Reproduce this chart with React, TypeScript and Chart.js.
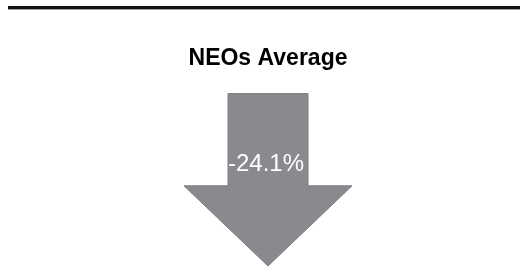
import React, { useEffect, useRef } from "react";
import { Chart, registerables } from "chart.js";

Chart.register(...registerables);

const categories = ["NEOs Average"];
const changeValues = [-24.1];
const chartTitle = "NEOs Average";

const arrowPlugin = {
  id: "arrowPlugin",
  beforeDraw(chart: any) {
    const ctx = chart.ctx;
    ctx.save();
    ctx.fillStyle = "#111111";
    ctx.fillRect(8, 6, chart.width - 8, 3);
    ctx.fillStyle = "#a0a0a0";
    ctx.fillRect(8, 9, chart.width - 8, 1);
    ctx.restore();
  },
  afterDatasetsDraw(chart: any) {
    const ctx = chart.ctx;
    const meta = chart.getDatasetMeta(0);
    meta.data.forEach((bar: any, i: number) => {
      const { x, y, base, width } = bar.getProps(["x", "y", "base", "width"], true);
      const half = width / 2;
      const headHalf = width * 1.05;
      const shoulder = base + (y - base) * 0.535;
      ctx.save();
      ctx.beginPath();
      ctx.moveTo(x - half, base);
      ctx.lineTo(x + half, base);
      ctx.lineTo(x + half, shoulder);
      ctx.lineTo(x + headHalf, shoulder);
      ctx.lineTo(x, y);
      ctx.lineTo(x - headHalf, shoulder);
      ctx.lineTo(x - half, shoulder);
      ctx.closePath();
      ctx.fillStyle = "#8a8a8e";
      ctx.fill();
      ctx.strokeStyle = "#7c7c80";
      ctx.lineWidth = 1;
      ctx.stroke();
      const v = chart.data.datasets[0].data[i];
      ctx.fillStyle = "#ffffff";
      ctx.font = "300 24px 'Liberation Sans', Arial, sans-serif";
      ctx.textAlign = "center";
      ctx.textBaseline = "alphabetic";
      ctx.fillText(v.toFixed(1) + "%", x - 2, base + 77);
      ctx.restore();
    });
  },
};

export default function App() {
  const ref = useRef<HTMLCanvasElement>(null);
  useEffect(() => {
    document.body.style.margin = "0";
    const chart = new Chart(ref.current!, {
      type: "bar",
      data: {
        labels: categories,
        datasets: [
          {
            data: changeValues,
            backgroundColor: "rgba(0,0,0,0)",
            barThickness: 80,
          },
        ],
      },
      options: {
        animation: false,
        responsive: false,
        maintainAspectRatio: false,
        layout: { padding: { top: 30, left: 16, right: 0, bottom: 6 } },
        plugins: {
          legend: { display: false },
          tooltip: { enabled: false },
          title: {
            display: true,
            text: chartTitle,
            color: "#000000",
            font: { family: "'Liberation Sans', Arial, sans-serif", size: 23, weight: "bold" },
            padding: { top: 15, bottom: 21 },
          },
        },
        scales: {
          x: { display: false },
          y: { display: false, min: changeValues[0], max: 0 },
        },
      },
      plugins: [arrowPlugin],
    });
    return () => chart.destroy();
  }, []);
  return (
    <div style={{ width: 520, height: 272 }}>
      <canvas ref={ref} width={520} height={272} style={{ display: "block" }} />
    </div>
  );
}
